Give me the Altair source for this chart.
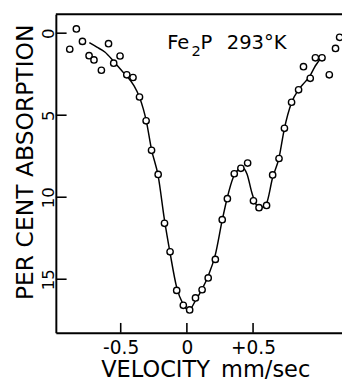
import altair as alt
import pandas as pd

# measured points (velocity mm/sec, per cent absorption)
vel = [-0.885, -0.835, -0.789, -0.739, -0.702, -0.646, -0.592, -0.553, -0.505,
       -0.454, -0.407, -0.358, -0.308, -0.267, -0.217, -0.169, -0.127, -0.077,
       -0.027, 0.021, 0.065, 0.115, 0.161, 0.215, 0.267, 0.306, 0.358, 0.408,
       0.459, 0.503, 0.545, 0.602, 0.648, 0.696, 0.737, 0.791, 0.844, 0.881,
       0.932, 0.971, 1.021, 1.076, 1.123, 1.154]
absn = [0.98, -0.26, 0.50, 1.37, 1.63, 2.26, 0.64, 1.83, 1.39,
        2.54, 2.70, 3.89, 5.34, 7.14, 8.61, 11.59, 13.33, 15.68,
        16.59, 16.87, 16.14, 15.64, 14.92, 13.79, 11.37, 10.09, 8.57, 8.24,
        7.92, 10.22, 10.64, 10.50, 8.64, 7.64, 5.80, 4.21, 3.45, 2.04,
        2.75, 1.50, 1.50, 2.54, 0.93, 0.25]

# fitted curve
curve_v = [-0.737, -0.68, -0.62, -0.55, -0.49, -0.45, -0.40, -0.358, -0.33,
           -0.308, -0.267, -0.217, -0.169, -0.127, -0.077, -0.03, 0.015, 0.065,
           0.115, 0.161, 0.215, 0.267, 0.306, 0.35, 0.39, 0.42, 0.455, 0.49,
           0.52, 0.557, 0.60, 0.648, 0.696, 0.737, 0.79, 0.844, 0.89, 0.93,
           0.97, 1.02]
curve_a = [0.58, 0.85, 1.15, 1.75, 2.3, 2.65, 3.2, 3.9, 4.6,
           5.3, 7.1, 8.7, 11.4, 13.4, 15.5, 16.5, 16.9, 16.3,
           15.6, 14.8, 13.5, 11.4, 10.0, 8.8, 8.3, 8.2, 8.6, 9.7,
           10.4, 10.65, 10.4, 8.8, 7.6, 5.8, 4.25, 3.45, 3.0, 2.6,
           2.0, 1.45]

xticks = [-0.5, 0.0, 0.5]
yticks = [0, 5, 10, 15]

W, H = 293, 326
FONT = "DejaVu Sans"

xscale = alt.Scale(domain=[-0.99, 1.172], nice=False, zero=False)
yscale = alt.Scale(domain=[-1.149, 18.26], reverse=True, nice=False, zero=False)

xaxis = alt.Axis(
    values=xticks,
    labelExpr="datum.value < 0 ? '-' + format(abs(datum.value), '.1f') : (datum.value > 0 ? '+' + format(datum.value, '.1f') : '0')",
    labelFontSize=19, labelPadding=6, labelFlush=False,
    title="VELOCITY\u2002mm/sec", titleFontSize=23, titleFontWeight="normal",
    titleX=153, titleY=45, titleBaseline="alphabetic", titleAlign="center",
)
yaxis = alt.Axis(
    values=yticks, format="d",
    labelAngle=270, labelAlign="center", labelBaseline="alphabetic",
    labelFontSize=17, labelPadding=2,
    title="PER CENT ABSORPTION", titleFontSize=24, titleFontWeight="normal",
    titleAngle=270, titleX=-24, titleY=151, titleBaseline="alphabetic",
    titleAlign="center",
)

pts = pd.DataFrame({"v": vel, "a": absn})
cur = pd.DataFrame({"v": curve_v, "a": curve_a})
xt = pd.DataFrame({"v": xticks})
yt = pd.DataFrame({"a": yticks})

X = alt.X("v:Q", scale=xscale, axis=xaxis)
Y = alt.Y("a:Q", scale=yscale, axis=yaxis)

line = alt.Chart(cur).mark_line(color="black", strokeWidth=1.5, interpolate="monotone").encode(x=X, y=Y)
points = alt.Chart(pts).mark_point(shape="circle", size=42, fill="white", fillOpacity=1,
                                   stroke="black", strokeWidth=1.4, opacity=1).encode(x=X, y=Y)
xtick_rules = alt.Chart(xt).mark_rule(color="black", strokeWidth=1.6).encode(
    x=X, y=alt.value(H), y2=alt.value(H - 10))
ytick_rules = alt.Chart(yt).mark_rule(color="black", strokeWidth=1.6).encode(
    y=Y, x=alt.value(0), x2=alt.value(11))
top_frame = alt.Chart(pd.DataFrame({"k": [0]})).mark_rule(color="black", strokeWidth=2).encode(
    x=alt.value(0), x2=alt.value(W), y=alt.value(0))

def label(txt, x, y, size):
    return alt.Chart(pd.DataFrame({"t": [txt]})).mark_text(
        align="left", baseline="alphabetic", font=FONT, fontSize=size, color="black"
    ).encode(x=alt.value(x), y=alt.value(y), text="t:N")

ann = [label("Fe", 114, 35, 20), label("2", 139, 43, 15), label("P", 148, 35, 20),
       label("293\u00b0K", 175, 35, 20)]

chart = alt.layer(line, points, xtick_rules, ytick_rules, top_frame, *ann).properties(
    width=W, height=H,
    padding={"left": 49, "top": 2, "right": 0, "bottom": 47},
    autosize=alt.AutoSizeParams(type="none"),
).configure_view(stroke=None).configure_axis(
    domainColor="black", domainWidth=2, ticks=False, grid=False,
    labelFont=FONT, labelColor="black", titleFont=FONT, titleColor="black",
)

chart.save("out.html", embed_options={"renderer": "svg", "actions": False})
